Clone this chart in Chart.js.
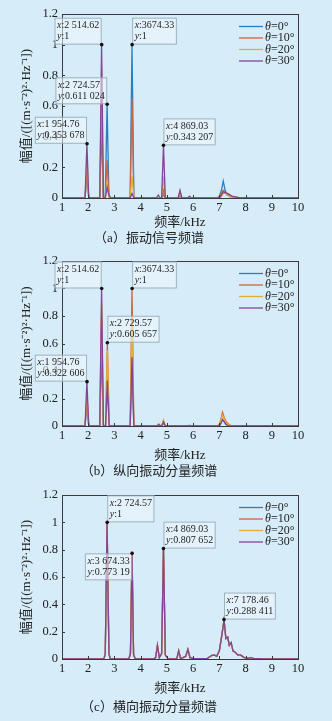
<!DOCTYPE html>
<html>
<head>
<meta charset="utf-8">
<script src="https://cdn.jsdelivr.net/npm/chart.js@4"></script>
<style>
  html, body { margin: 0; padding: 0; background: #d6ecf8; width: 332px; height: 721px; overflow: hidden; }
  canvas { position: absolute; left: 0; }
</style>
</head>
<body>
<canvas id="chartA" width="332" height="248" style="top:0px"></canvas>
<canvas id="chartB" width="332" height="234" style="top:248px"></canvas>
<canvas id="chartC" width="332" height="239" style="top:482px"></canvas>
<script>
// series labels and colours
const seriesLabels = ['θ=0°', 'θ=10°', 'θ=20°', 'θ=30°'];
const seriesColors = ['#2a7fc1', '#d0643e', '#e2ae35', '#834598'];

const xTicks = [1, 2, 3, 4, 5, 6, 7, 8, 9, 10];
const yTicks = [0, 0.2, 0.4, 0.6, 0.8, 1, 1.2];
const xTitle = '频率/kHz';
const yTitle = '幅值/([(m·s⁻²)²·Hz⁻¹])';

// (a) vibration signal spectrum
const freqA = [1.00, 1.88, 1.95, 2.02, 2.44, 2.51, 2.58, 2.65, 2.72, 2.79, 2.86, 3.00, 3.60, 3.67, 3.74, 4.00, 4.60, 4.67, 4.74, 4.80, 4.87, 4.94, 5.20, 5.43, 5.50, 5.57, 5.80, 5.86, 5.92, 6.90, 7.00, 7.08, 7.15, 7.22, 7.30, 7.40, 7.50, 7.80, 10.0];
const a0  = [0, 0, 0.17, 0, 0, 0.45, 0, 0, 0.61, 0, 0, 0, 0, 1.0, 0, 0, 0, 0, 0, 0, 0.02, 0, 0, 0, 0.01, 0, 0, 0.01, 0, 0, 0.01, 0.05, 0.11, 0.05, 0.02, 0.01, 0, 0, 0];
const a10 = [0, 0, 0.17, 0, 0, 0.6, 0, 0, 0.25, 0, 0, 0, 0, 0.65, 0, 0, 0, 0, 0, 0, 0.05, 0, 0, 0, 0.04, 0, 0, 0, 0, 0, 0.005, 0.03, 0.05, 0.04, 0.03, 0.02, 0.01, 0, 0];
const a20 = [0, 0, 0.28, 0, 0, 0.85, 0, 0, 0.1, 0, 0, 0, 0, 0.14, 0, 0, 0, 0, 0, 0, 0.14, 0, 0, 0, 0.03, 0, 0, 0, 0, 0, 0, 0.01, 0.03, 0.03, 0.02, 0.01, 0, 0, 0];
const a30 = [0, 0, 0.354, 0, 0, 1.0, 0, 0, 0.07, 0.02, 0, 0, 0, 0.03, 0, 0, 0, 0.02, 0, 0, 0.343, 0, 0, 0, 0.05, 0, 0, 0.01, 0, 0, 0, 0.02, 0.04, 0.035, 0.03, 0.02, 0.01, 0, 0];
const tipAX = [2.51462, 3.67433, 2.72457, 1.95476, 4.86903];
const tipAY = [1, 1, 0.611024, 0.353678, 0.343207];
const tipATextX = ['2 514.62', '3674.33', '2 724.57', '1 954.76', '4 869.03'];
const tipATextY = ['1', '1', '0.611 024', '0.353 678', '0.343 207'];
const tipASide = ['ul', 'ur', 'ul', 'ul', 'ur'];

// (b) longitudinal component spectrum
const freqB = [1.00, 1.88, 1.95, 2.02, 2.44, 2.51, 2.58, 2.66, 2.73, 2.80, 3.00, 3.60, 3.67, 3.74, 4.00, 4.62, 4.69, 4.76, 4.80, 4.87, 4.94, 5.20, 5.80, 5.86, 5.92, 6.90, 7.00, 7.06, 7.12, 7.19, 7.26, 7.35, 7.45, 7.70, 10.0];
const b0  = [0, 0, 0.17, 0, 0, 0.55, 0, 0, 0.3, 0, 0, 0, 0.45, 0, 0, 0, 0.005, 0, 0, 0.02, 0, 0, 0, 0.005, 0, 0, 0, 0.02, 0.05, 0.03, 0.01, 0, 0, 0, 0];
const b10 = [0, 0, 0.2, 0, 0, 0.8, 0, 0, 0.606, 0, 0, 0, 1.0, 0, 0, 0, 0.015, 0, 0, 0.03, 0, 0, 0, 0, 0, 0, 0.01, 0.05, 0.1, 0.06, 0.03, 0.015, 0, 0, 0];
const b20 = [0, 0, 0.25, 0, 0, 0.9, 0, 0, 0.55, 0, 0, 0, 0.8, 0, 0, 0, 0.01, 0, 0, 0.045, 0, 0, 0, 0, 0, 0, 0.005, 0.04, 0.08, 0.05, 0.02, 0.01, 0, 0, 0];
const b30 = [0, 0, 0.323, 0, 0, 1.0, 0, 0, 0.33, 0, 0, 0, 0.5, 0, 0, 0, 0.01, 0, 0, 0.03, 0, 0, 0, 0, 0, 0, 0, 0.02, 0.045, 0.03, 0.01, 0, 0, 0, 0];
const tipBX = [2.51462, 3.67433, 2.72957, 1.95476];
const tipBY = [1, 1, 0.605657, 0.322606];
const tipBTextX = ['2 514.62', '3674.33', '2 729.57', '1 954.76'];
const tipBTextY = ['1', '1', '0.605 657', '0.322 606'];
const tipBSide = ['ul', 'ur', 'ur', 'ul'];

// (c) transverse component spectrum
const freqC = [1.00, 2.60, 2.65, 2.72, 2.79, 2.84, 3.00, 3.55, 3.61, 3.67, 3.73, 3.80, 4.00, 4.50, 4.57, 4.64, 4.71, 4.80, 4.87, 4.94, 5.05, 5.38, 5.45, 5.52, 5.62, 5.72, 5.80, 5.88, 6.00, 6.55, 6.70, 6.80, 6.90, 7.00, 7.10, 7.18, 7.25, 7.32, 7.38, 7.45, 7.52, 7.60, 7.70, 7.80, 7.95, 8.10, 8.20, 8.30, 8.60, 10.0];
const c0  = [0, 0, 0.04, 0.99, 0.04, 0, 0, 0, 0.04, 0.77, 0.03, 0, 0, 0, 0.01, 0.1, 0.01, 0.04, 0.80, 0.03, 0, 0.003, 0.06, 0.005, 0.01, 0.02, 0.07, 0.01, 0.003, 0.005, 0.025, 0.03, 0.02, 0.06, 0.18, 0.28, 0.15, 0.16, 0.1, 0.12, 0.06, 0.05, 0.03, 0.03, 0.01, 0.005, 0.01, 0.005, 0.003, 0];
const c10 = [0, 0, 0.04, 0.995, 0.04, 0, 0, 0, 0.04, 0.78, 0.03, 0, 0, 0, 0.01, 0.1, 0.01, 0.04, 0.805, 0.03, 0, 0.003, 0.06, 0.005, 0.01, 0.02, 0.07, 0.01, 0.003, 0.005, 0.025, 0.03, 0.02, 0.06, 0.18, 0.285, 0.15, 0.16, 0.1, 0.12, 0.06, 0.05, 0.03, 0.03, 0.01, 0.005, 0.01, 0.005, 0.003, 0];
const c20 = [0, 0, 0.04, 1.0, 0.04, 0, 0, 0, 0.04, 0.79, 0.03, 0, 0, 0, 0.01, 0.1, 0.01, 0.04, 0.808, 0.03, 0, 0.003, 0.06, 0.005, 0.01, 0.02, 0.07, 0.01, 0.003, 0.005, 0.025, 0.03, 0.02, 0.06, 0.18, 0.288, 0.15, 0.16, 0.1, 0.12, 0.06, 0.05, 0.03, 0.03, 0.01, 0.005, 0.01, 0.005, 0.003, 0];
const c30 = [0, 0, 0.04, 1.0, 0.04, 0, 0, 0, 0.04, 0.773, 0.03, 0, 0, 0, 0.01, 0.1, 0.01, 0.04, 0.808, 0.03, 0, 0.003, 0.06, 0.005, 0.01, 0.02, 0.07, 0.01, 0.003, 0.005, 0.025, 0.03, 0.02, 0.06, 0.18, 0.288, 0.15, 0.16, 0.1, 0.12, 0.06, 0.05, 0.03, 0.03, 0.01, 0.005, 0.01, 0.005, 0.003, 0];
const tipCX = [2.72457, 3.67433, 4.86903, 7.17846];
const tipCY = [1, 0.77319, 0.807652, 0.288411];
const tipCTextX = ['2 724.57', '3 674.33', '4 869.03', '7 178.46'];
const tipCTextY = ['1', '0.773 19', '0.807 652', '0.288 411'];
const tipCSide = ['ur', 'dl', 'ur', 'ur'];

const SERIF = '"Liberation Serif", "Noto Sans CJK SC", serif';
const INK = '#222';

// frame, inward ticks, legend and data tips drawn on top of the lines
const overlay = {
  id: 'overlay',
  afterDatasetsDraw(chart, args, opts) {
    const { ctx, chartArea: a, scales: { x, y } } = chart;
    ctx.save();
    ctx.strokeStyle = '#3a3a3a';
    ctx.lineWidth = 1;
    ctx.strokeRect(a.left + 0.5, a.top + 0.5, a.right - a.left, a.bottom - a.top);
    ctx.beginPath();
    x.ticks.forEach(t => {
      const px = Math.round(x.getPixelForValue(t.value)) + 0.5;
      ctx.moveTo(px, a.bottom); ctx.lineTo(px, a.bottom - 3);
    });
    y.ticks.forEach(t => {
      const py = Math.round(y.getPixelForValue(t.value)) + 0.5;
      ctx.moveTo(a.left, py); ctx.lineTo(a.left + 3, py);
    });
    ctx.stroke();

    // legend
    ctx.textBaseline = 'middle';
    chart.data.datasets.forEach((ds, i) => {
      const lx = a.right - 59, ly = a.top + 12.5 + i * 11.5;
      ctx.strokeStyle = ds.borderColor;
      ctx.lineWidth = 1.3;
      ctx.beginPath(); ctx.moveTo(lx, ly); ctx.lineTo(lx + 24, ly); ctx.stroke();
      ctx.fillStyle = INK;
      ctx.font = 'italic 12px ' + SERIF;
      ctx.fillText(ds.label[0], lx + 26, ly);
      const w = ctx.measureText(ds.label[0]).width;
      ctx.font = '12px ' + SERIF;
      ctx.fillText(ds.label.slice(1), lx + 26 + w, ly);
    });

    // data tips
    const tips = opts.tips;
    tips.x.forEach((vx, i) => {
      const px = x.getPixelForValue(vx), py = y.getPixelForValue(tips.y[i]);
      const l1 = ':' + tips.textX[i], l2 = ':' + tips.textY[i];
      ctx.font = 'italic 10px ' + SERIF;
      const wx = ctx.measureText('x').width, wy = ctx.measureText('y').width;
      ctx.font = '10px ' + SERIF;
      const tw = Math.max(wx + ctx.measureText(l1).width, wy + ctx.measureText(l2).width);
      const bw = tw + 5, bh = 27;
      const side = tips.side[i];
      const bx = side[1] === 'l' ? px - bw : px;
      const by = side[0] === 'u' ? py - bh : py;
      ctx.fillStyle = 'rgba(240,248,253,0.55)';
      ctx.strokeStyle = 'rgba(130,155,170,0.75)';
      ctx.lineWidth = 1;
      ctx.fillRect(bx, by, bw, bh);
      ctx.strokeRect(bx + 0.5, by + 0.5, bw - 1, bh - 1);
      ctx.fillStyle = INK;
      ctx.font = 'italic 10px ' + SERIF;
      ctx.fillText('x', bx + 2.5, by + 8);
      ctx.fillText('y', bx + 2.5, by + 19);
      ctx.font = '10px ' + SERIF;
      ctx.fillText(l1, bx + 2.5 + wx, by + 8);
      ctx.fillText(l2, bx + 2.5 + wy, by + 19);
      ctx.fillStyle = '#111';
      ctx.beginPath(); ctx.arc(px, py, 1.8, 0, Math.PI * 2); ctx.fill();
    });
    ctx.restore();
  }
};

function makeChart(id, freq, series, tips, caption, padTop, xAxisH, xTitlePad, capPad) {
  const tickFont = { family: SERIF, size: 12.5 };
  return new Chart(document.getElementById(id), {
    type: 'line',
    data: {
      datasets: series.map((vals, i) => ({
        label: seriesLabels[i],
        data: freq.map((f, j) => ({ x: f, y: vals[j] })),
        borderColor: seriesColors[i],
        borderWidth: 1.3,
        pointRadius: 0,
        tension: 0,
        order: series.length - 1 - i,
      })),
    },
    options: {
      responsive: false,
      animation: false,
      layout: { padding: { left: 0, right: 34, top: padTop, bottom: 0 } },
      plugins: {
        legend: { display: false },
        tooltip: { enabled: false },
        title: {
          display: true, position: 'bottom', text: caption, color: INK,
          font: { family: SERIF, size: 13, weight: 'normal' },
          padding: { top: 0, bottom: capPad },
        },
        overlay: { tips },
      },
      scales: {
        x: {
          type: 'linear', min: 1, max: 10,
          afterBuildTicks: s => { s.ticks = xTicks.map(v => ({ value: v })); },
          ticks: { padding: 2, color: INK, font: tickFont, maxRotation: 0 },
          grid: { display: false, drawTicks: false },
          border: { display: false },
          title: { display: true, text: xTitle, color: INK, font: { family: SERIF, size: 13 }, padding: { top: 0, bottom: xTitlePad } },
          afterFit: s => { s.height = xAxisH; },
        },
        y: {
          min: 0, max: 1.2,
          afterBuildTicks: s => { s.ticks = yTicks.map(v => ({ value: v })); },
          ticks: { padding: 4, color: INK, font: tickFont, callback: v => String(+v.toFixed(1)) },
          grid: { display: false, drawTicks: false },
          border: { display: false },
          title: { display: true, text: yTitle, color: INK, font: { family: SERIF, size: 13 }, padding: { top: 19.2, bottom: 0 } },
          afterFit: s => { s.width = 62; },
        },
      },
    },
    plugins: [overlay],
  });
}

makeChart('chartA', freqA, [a0, a10, a20, a30],
  { x: tipAX, y: tipAY, textX: tipATextX, textY: tipATextY, side: tipASide },
  '（a）振动信号频谱', 14, 32.4, 0, 2);
makeChart('chartB', freqB, [b0, b10, b20, b30],
  { x: tipBX, y: tipBY, textX: tipBTextX, textY: tipBTextY, side: tipBSide },
  '（b）纵向振动分量频谱', 13, 38.2, 0.4, 2.2);
makeChart('chartC', freqC, [c0, c10, c20, c30],
  { x: tipCX, y: tipCY, textX: tipCTextX, textY: tipCTextY, side: tipCSide },
  '（c）横向振动分量频谱', 13, 41.2, 3.4, 5.2);
</script>
</body>
</html>
